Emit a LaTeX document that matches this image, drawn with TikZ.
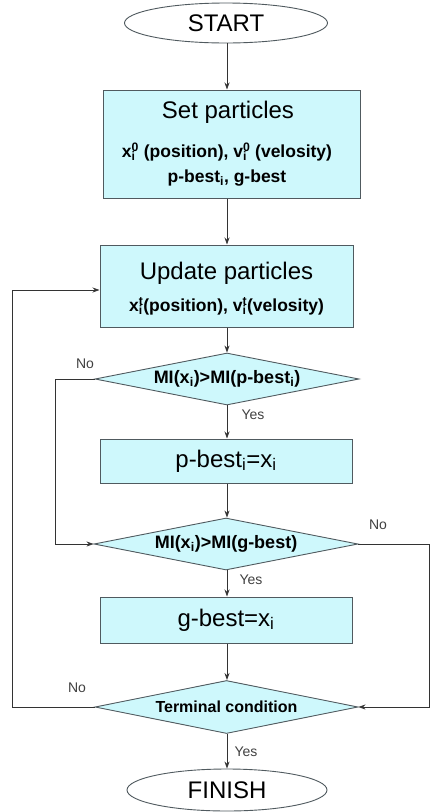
\documentclass[tikz,border=0pt]{standalone}
\usepackage{fontspec}
\setmainfont{Liberation Sans}
\usetikzlibrary{shapes.geometric,arrows.meta,shadows}
\definecolor{boxfill}{RGB}{206,248,252}
\definecolor{boxline}{RGB}{80,90,95}
\newcommand\subsup[2]{\rlap{\textsubscript{#1}}\textsuperscript{#2}}
\newcommand\bigf{\fontsize{24}{28}\selectfont}
\newcommand\smf{\fontsize{17.5}{20}\selectfont\bfseries}
\newcommand\decf{\fontsize{18}{20}\selectfont\bfseries}
\newcommand\tcf{\fontsize{16}{19}\selectfont\bfseries}
\newcommand\lblf{\fontsize{14}{16}\selectfont}
\begin{document}
\begin{tikzpicture}[x=1pt,y=-1pt,
  shd/.style={drop shadow={opacity=0.35,shadow xshift=1.2pt,shadow yshift=-1.2pt}},
  proc/.style={draw=boxline,line width=1pt,fill=boxfill,rectangle,inner sep=0pt,align=center,shd},
  dec/.style={draw=boxline,line width=0.9pt,fill=boxfill,diamond,aspect=5,inner sep=0pt,minimum width=264pt,minimum height=52pt,font=\decf},
  term/.style={draw=boxline,line width=0.9pt,fill=white,ellipse,inner sep=0pt,font=\bigf},
  flow/.style={draw=black!80,line width=0.8pt,-{Stealth[length=7pt,width=5pt]}},
  lbl/.style={font=\lblf,text=black!75,inner sep=0pt}]
\useasboundingbox (0,0) rectangle (430,812);
% nodes
\node[term,minimum width=203pt,minimum height=40pt] (start) at (226,23) {START};
\node[proc,minimum width=257pt,minimum height=108pt] (set) at (231.5,144) {};
\node[inner sep=0pt,font=\bigf] (settitle) at (228,112) {Set particles};
\node[inner sep=0pt,font=\smf] (setl2) at (227,152) {x\subsup{i}{0} (position), v\subsup{i}{0} (velosity)};
\node[inner sep=0pt,font=\smf] (setl3) at (227,178) {p-best\textsubscript{i}, g-best};
\node[proc,minimum width=253pt,minimum height=82pt] (upd) at (226.5,286) {};
\node[inner sep=0pt,font=\bigf] (updtitle) at (226.5,273) {Update particles};
\node[inner sep=0pt,font=\smf] (updl2) at (226.5,306) {x\subsup{i}{t}(position), v\subsup{i}{t}(velosity)};
\node[dec] (d1) at (227,379) {MI(x\textsubscript{i})>MI(p-best\textsubscript{i})};
\node[proc,minimum width=252pt,minimum height=44pt,font=\bigf] (pb) at (226,461) {p-best\textsubscript{i}=x\textsubscript{i}};
\node[dec] (d2) at (226,544) {MI(x\textsubscript{i})>MI(g-best)};
\node[proc,minimum width=252pt,minimum height=46pt,font=\bigf] (gb) at (226,620) {g-best=x\textsubscript{i}};
\node[dec,font=\tcf,minimum width=263pt,minimum height=53pt] (tc) at (226.5,707) {Terminal condition};
\node[term,minimum width=200pt,minimum height=42pt] (fin) at (227,790) {FINISH};
% loop corners
\coordinate (c1a) at (55,379);
\coordinate (c1b) at (55,544);
\coordinate (c2a) at (429.5,544);
\coordinate (c2b) at (429.5,707);
\coordinate (c3a) at (12,707);
\coordinate (c3b) at (12,290);
\coordinate (updin) at (upd.west |- c3b);
% main flow
\draw[flow] (start.south -| 227,0) -- (set.north -| 227,0);
\draw[flow] (set.south -| 227,0) -- (upd.north -| 227,0);
\draw[flow] (upd.south -| 227,0) -- (d1.north);
\draw[flow] (d1.south) -- (pb.north -| d1.south);
\draw[flow] (pb.south -| d1.south) -- (d2.north -| d1.south);
\draw[flow] (d2.south -| d1.south) -- (gb.north -| d1.south);
\draw[flow] (gb.south -| d1.south) -- (tc.north -| d1.south);
\draw[flow] (tc.south -| d1.south) -- (fin.north -| d1.south);
% loops
\draw[flow] (d1.west) -- (c1a) -- (c1b) -- (d2.west);
\draw[flow] (d2.east) -- (c2a) -- (c2b) -- (tc.east);
\draw[flow] (tc.west) -- (c3a) -- (c3b) -- (updin);
% labels
\node[lbl] (no1) at (85,364) {No};
\node[lbl] (yes1) at (253,415) {Yes};
\node[lbl] (no2) at (378,525) {No};
\node[lbl] (yes2) at (251,580) {Yes};
\node[lbl] (no3) at (77,688) {No};
\node[lbl] (yes3) at (246,752) {Yes};
\end{tikzpicture}
\end{document}
